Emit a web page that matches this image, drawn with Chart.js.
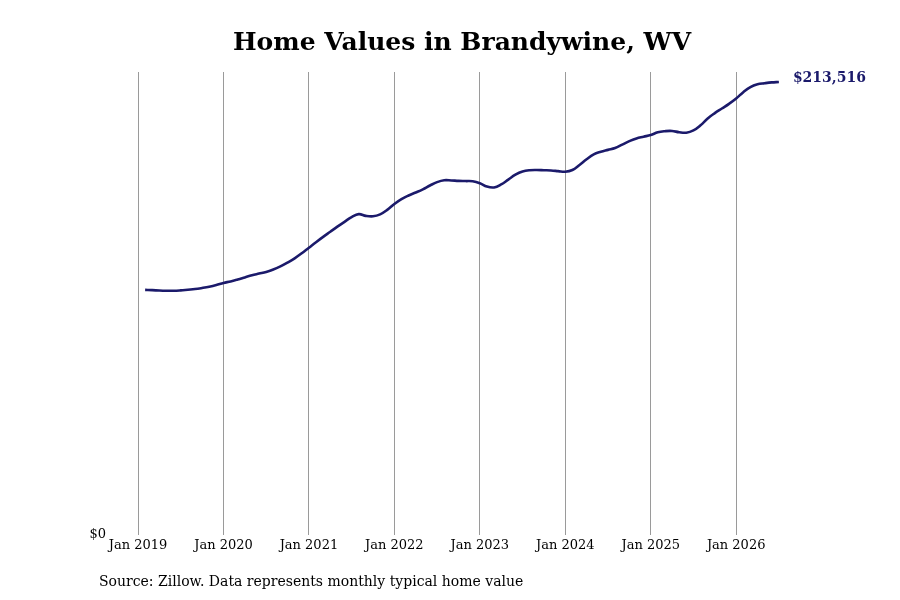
<!DOCTYPE html>
<html>
<head>
<meta charset="utf-8">
<script src="https://cdn.jsdelivr.net/npm/chart.js@4.4.1/dist/chart.umd.min.js"></script>
<style>
  html, body { margin: 0; padding: 0; background: #ffffff; }
  #wrap { width: 900px; height: 600px; }
</style>
</head>
<body>
<div id="wrap"><canvas id="c" width="900" height="600"></canvas></div>
<script>
const TITLE = "Home Values in Brandywine, WV";
const SOURCE = "Source: Zillow. Data represents monthly typical home value";
const yearTicks = ["Jan 2019","Jan 2020","Jan 2021","Jan 2022","Jan 2023","Jan 2024","Jan 2025","Jan 2026"];
// Monthly typical home values, Jan 2019 .. Jun 2026 (end of month)
const homeValues = [
  115500,115400,115200,115100,115100,115300,115600,115900,116400,117000,117800,118800,
  119500,120400,121400,122400,123200,124000,125100,126600,128400,130400,132800,135400,
  138000,140500,142900,145300,147600,149800,151200,150400,150200,151100,153200,156000,
  158300,160000,161400,162900,164700,166300,167200,167100,166900,166800,166700,165800,
  164200,163800,165200,167500,169800,171300,171900,172000,171900,171800,171500,171200,
  172000,174400,177100,179400,180600,181500,182400,184000,185600,186900,187700,188500,
  189800,190300,190400,189800,189600,190700,193100,196300,198800,201000,203200,205700,
  208700,211100,212400,212900,213300,213516
];
const lineColor = "#1b1a6b";
const FONT = "'DejaVu Serif', serif";

const points = homeValues.map((v, i) => ({ x: i + 1, y: v }));

const decorPlugin = {
  id: 'decor',
  afterDraw(chart) {
    const ctx = chart.ctx;
    const ca = chart.chartArea;
    ctx.save();
    ctx.fillStyle = '#000';
    ctx.font = "bold 25px " + FONT;
    ctx.textAlign = 'center';
    ctx.textBaseline = 'middle';
    ctx.fillText(TITLE, (ca.left + ca.right) / 2, 43);
    ctx.font = "14px " + FONT;
    ctx.textAlign = 'left';
    ctx.fillText(SOURCE, 99, 582);
    const meta = chart.getDatasetMeta(0);
    const last = meta.data[meta.data.length - 1];
    const lastVal = homeValues[homeValues.length - 1];
    ctx.fillStyle = lineColor;
    ctx.font = "bold 14px " + FONT;
    ctx.fillText('$' + lastVal.toLocaleString('en-US'), last.x + 14, last.y - 4);
    ctx.restore();
  }
};

new Chart(document.getElementById('c'), {
  type: 'line',
  data: {
    datasets: [{
      data: points,
      borderColor: lineColor,
      borderWidth: 2.6,
      pointRadius: 0,
      tension: 0.4,
      fill: false
    }]
  },
  options: {
    responsive: false,
    animation: false,
    devicePixelRatio: 1,
    layout: { padding: { left: 90, right: 114, top: 72, bottom: 0 } },
    plugins: { legend: { display: false }, tooltip: { enabled: false }, title: { display: false } },
    scales: {
      x: {
        type: 'linear',
        min: 0,
        max: 91,
        afterBuildTicks(scale) {
          scale.ticks = yearTicks.map((t, i) => ({ value: i * 12 }));
        },
        afterFit(scale) { scale.height = 65; },
        ticks: {
          callback: (v) => yearTicks[Math.round(v / 12)],
          font: { family: FONT, size: 13 },
          color: '#000',
          padding: 3,
          maxRotation: 0,
          autoSkip: false
        },
        grid: { color: '#9a9a9a', lineWidth: 1, drawTicks: false },
        border: { display: false }
      },
      y: {
        min: 0,
        max: 218200,
        afterBuildTicks(scale) { scale.ticks = [{ value: 0 }]; },
        afterFit(scale) { scale.width = 48; },
        ticks: {
          callback: (v) => '$' + v,
          font: { family: FONT, size: 13 },
          color: '#000',
          padding: 32
        },
        grid: { display: false, drawTicks: false },
        border: { display: false }
      }
    }
  },
  plugins: [decorPlugin]
});
</script>
</body>
</html>
